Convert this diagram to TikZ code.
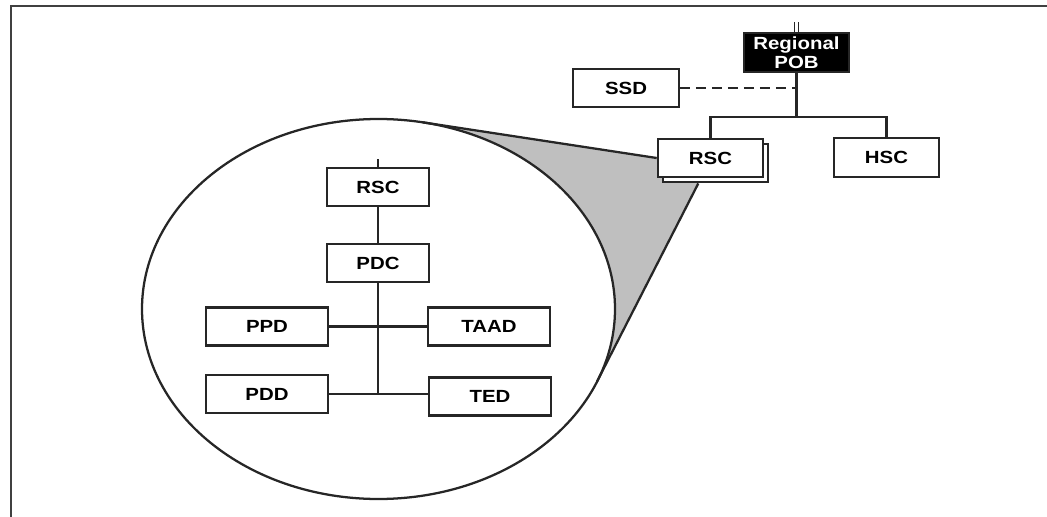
\documentclass[tikz,border=0pt]{standalone}
\usepackage{fontspec}
\newfontfamily\orgfont[FakeStretch=1.16]{Liberation Sans}
\usetikzlibrary{calc,backgrounds}

\begin{document}
\begin{tikzpicture}[x=0.75pt,y=-0.75pt,
  box/.style={draw=black!85,line width=1.7pt,fill=white,minimum width=79pt,minimum height=29pt,inner sep=0pt,
    font=\orgfont\bfseries\fontsize{13.2}{14}\selectfont},
  darkbox/.style={box,fill=black,text=white,align=center},
  widebox/.style={box,minimum width=92pt,minimum height=28.5pt},
  wire/.style={line width=1.7pt,draw=black!85}]
\useasboundingbox (0,0) rectangle (1047,517);

% frame
\draw[line width=2.2pt,black!75] (11,517) -- (11,6) -- (1047,6);

% top of the tree
\node[darkbox] (pob) at (796.5,52.5) {Regional\\POB};
\node[box] (ssd) at (626,88) {SSD};
\node[box] (rscback) at (715.5,163) {};
\node[box] (rsc) at (710.5,158) {RSC};
\node[box] (hsc) at (886.5,157.5) {HSC};

\draw[wire,line width=1pt] ($(pob.north)+(-1.8,0)$) -- ++(0,-10);
\draw[wire,line width=1pt] ($(pob.north)+(1.8,0)$) -- ++(0,-10);
\draw[wire] (pob.south) -- ++(0,44) coordinate (split);
\draw[wire] (rsc.north) -- (rsc.north |- split) -- (hsc.north |- split) -- (hsc.north);
\draw[wire,dash pattern=on 7.5pt off 4.5pt] (ssd.east) -- (ssd.east -| pob.south);

% inside the lens
\node[box,minimum width=76pt] (irsc) at (378,187) {RSC};
\node[box,minimum width=76pt] (pdc) at (378,263) {PDC};
\node[widebox] (ppd) at (267,326.5) {PPD};
\node[widebox] (taad) at (489,326.5) {TAAD};
\node[widebox] (pdd) at (267,394) {PDD};
\node[widebox] (ted) at (490,396.5) {TED};

\draw[wire] (irsc.north) -- ++(0,-8);
\draw[wire] (irsc) -- (pdc);
\draw[wire] (pdc.south) -- (pdc.south |- pdd.east);
\draw[wire] (ppd.east) -- (taad.west);
\draw[wire] (pdd.east) -- (pdd.east -| ted.west);

% lens and wedge
\coordinate (lens) at (378.5,309);
\coordinate (tup) at (422.6,122.3);
\coordinate (tlow) at (597.1,381.4);
\coordinate (tail) at ($(rscback.south west)!0.34!(rscback.south east)$);
\begin{scope}[on background layer]
  \fill[black!25] (lens) -- (tup) -- (rsc.west) -- (rsc.center) -- (tail) -- (tlow) -- cycle;
  \draw[wire,fill=white] (lens) ellipse [x radius=236.5,y radius=190];
  \draw[wire] (tup) -- (rsc.west);
  \draw[wire] (tail) -- (tlow);
\end{scope}
\end{tikzpicture}
\end{document}
